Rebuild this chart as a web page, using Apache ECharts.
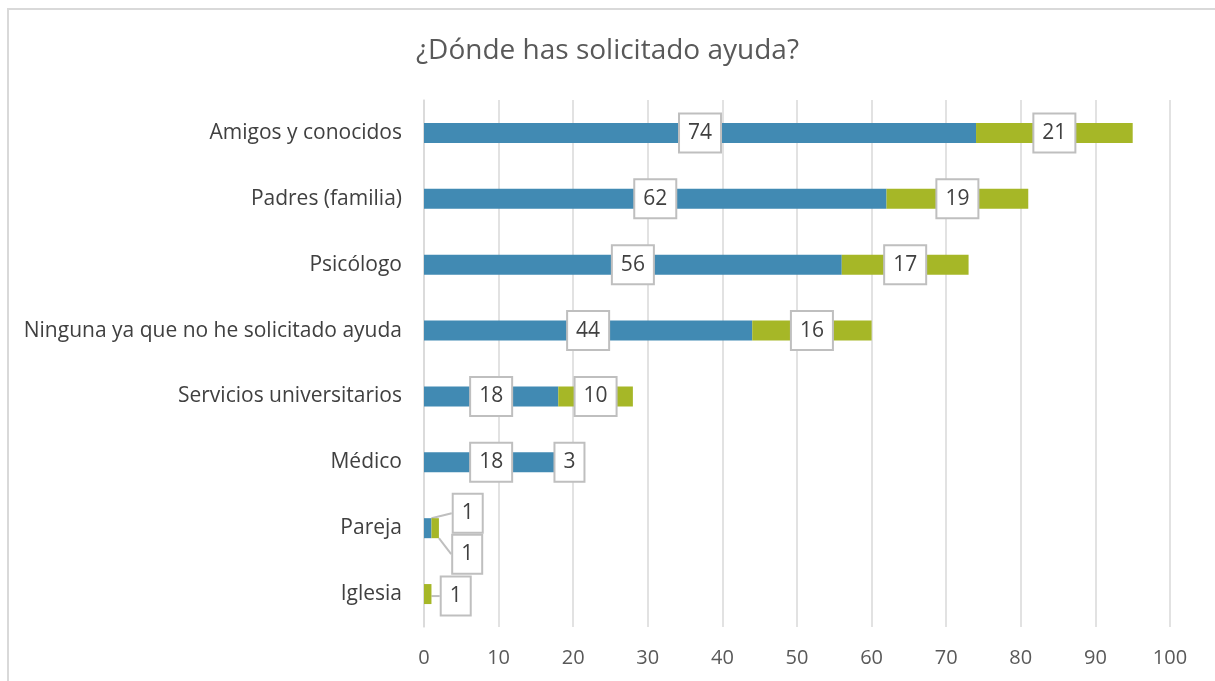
<!DOCTYPE html>
<html lang="es">
<head>
    <meta charset="UTF-8">
    <title>¿Dónde has solicitado ayuda?</title>
    <script src="https://cdn.jsdelivr.net/npm/echarts@6/dist/echarts.min.js"></script>
    <style>
        html, body { margin: 0; padding: 0; background: #fff; }
        #chart { width: 1215px; height: 681px; }
    </style>
</head>
<body>
<div id="chart"></div>
<script>
    // datos (de abajo hacia arriba, como en el eje)
    var categorias = ['Iglesia', 'Pareja', 'Médico', 'Servicios universitarios',
        'Ninguna ya que no he solicitado ayuda', 'Psicólogo', 'Padres (familia)', 'Amigos y conocidos'];
    var serieAzul = [0, 1, 18, 18, 44, 56, 62, 74];
    var serieVerde = [1, 1, 3, 10, 16, 17, 19, 21];
    var ticksX = [0, 10, 20, 30, 40, 50, 60, 70, 80, 90, 100];

    var fuente = '"Open Sans", sans-serif';
    var colorAzul = '#418AB3';
    var colorVerde = '#A6B727';

    var etiqueta = {
        show: true,
        position: 'inside',
        fontFamily: fuente,
        fontSize: 21,
        lineHeight: 24,
        color: '#404040',
        backgroundColor: '#fff',
        borderColor: '#BFBFBF',
        borderWidth: 2,
        padding: [7, 8, 6, 8]
    };

    // sin etiqueta para los valores cero
    function aDatos(valores) {
        return valores.map(function (v) {
            return v > 0 ? v : { value: v, label: { show: false } };
        });
    }

    // etiquetas desplazadas para las barras muy pequeñas
    function moverAzul(p) {
        if (p.dataIndex === 1) return { dx: 40, dy: -15 };
        return {};
    }
    function moverVerde(p) {
        if (p.dataIndex === 1) return { dx: 32, dy: 26 };
        if (p.dataIndex === 0) return { dx: 28, dy: 2 };
        return {};
    }

    var chart = echarts.init(document.getElementById('chart'));
    chart.setOption({
        animation: false,
        title: {
            text: '¿Dónde has solicitado ayuda?',
            left: 'center',
            top: 32,
            textStyle: { fontFamily: fuente, fontSize: 28, fontWeight: 'normal', color: '#595959' }
        },
        graphic: [{
            type: 'polyline',
            shape: { points: [[8, 700], [8, 9], [1230, 9]] },
            style: { stroke: '#D9D9D9', lineWidth: 2, fill: null }
        }],
        grid: { left: 424, right: 45, top: 100, bottom: 54 },
        xAxis: {
            type: 'value',
            min: ticksX[0],
            max: ticksX[ticksX.length - 1],
            interval: 10,
            axisLine: { show: false },
            axisTick: { show: false },
            splitLine: { lineStyle: { color: '#D9D9D9', width: 1.5 } },
            axisLabel: { fontFamily: fuente, fontSize: 20, color: '#595959', margin: 21 }
        },
        yAxis: {
            type: 'category',
            data: categorias,
            axisLine: { show: true, lineStyle: { color: '#D9D9D9', width: 1.5 } },
            axisTick: { show: false },
            axisLabel: { fontFamily: fuente, fontSize: 21, color: '#404040', margin: 22 }
        },
        series: [
            {
                type: 'bar',
                stack: 'total',
                data: aDatos(serieAzul),
                barWidth: 20,
                itemStyle: { color: colorAzul },
                label: etiqueta,
                labelLayout: moverAzul,
                labelLine: { show: true, lineStyle: { color: '#BFBFBF', width: 2 } }
            },
            {
                type: 'bar',
                stack: 'total',
                data: aDatos(serieVerde),
                barWidth: 20,
                itemStyle: { color: colorVerde },
                label: etiqueta,
                labelLayout: moverVerde,
                labelLine: { show: true, lineStyle: { color: '#BFBFBF', width: 2 } }
            }
        ]
    });
</script>
</body>
</html>
